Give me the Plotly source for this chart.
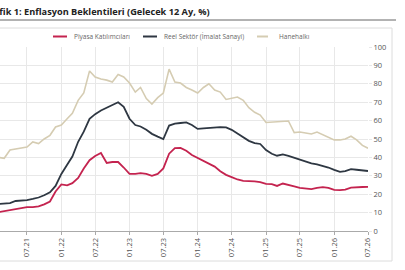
import plotly.graph_objects as go
import pandas as pd

dates = pd.date_range("2021-02-01", periods=66, freq="MS")

piyasa = [10.3, 10.8, 11.4, 12.2, 12.6, 13, 13, 13.4, 14.5, 16, 21.5,
          25.3, 24.8, 26, 28.8, 34, 38.5, 40.8, 42.4, 37, 37.5, 37.5,
          34.5, 31, 31, 31.5, 31, 30, 31, 34, 42, 45, 45.2,
          43.6, 41.3, 39.7, 38.2, 37, 35, 32.5, 30.5, 29.3, 28, 27.2,
          27.2, 27, 26.6, 25.6, 25.5, 24.5, 25.8, 25.2, 24.2, 23.4, 23,
          22.8, 23.4, 23.8, 23.4, 22.3, 22.2, 22.5, 23.6, 23.9, 23.9, 24]

reel = [14.7, 15, 15.2, 16.3, 16.5, 16.8, 17.4, 18.2, 19.4, 21, 24.5,
        31, 36, 40.5, 48.5, 54, 61, 63.5, 65.5, 67, 68.5, 70,
        67.5, 61, 57.6, 56.8, 55, 52.8, 51.3, 50, 57.3, 58.3, 58.7,
        59, 57.6, 55.5, 55.8, 56, 56.3, 56.4, 56.3, 55, 53, 51,
        49, 47.8, 47.3, 44, 42, 40.9, 41.6, 40.8, 39.8, 38.6, 37.6,
        36.8, 36.2, 35.5, 34.5, 33.2, 32.1, 32.6, 33.6, 33.3, 33, 32.6]

hane = [40, 39.5, 44, 44.5, 45, 45.6, 48.4, 47.5, 50, 52, 56.5,
        57.6, 61, 64, 71, 75, 87, 83.7, 82.6, 82, 81, 85,
        83.7, 80.4, 75.5, 78, 72, 69, 72.5, 75, 88, 81, 80.4,
        78, 76.6, 75, 78, 80, 76.6, 75.5, 71.5, 72.3, 72.8, 71,
        67, 64.5, 63, 59, 59.2, 59.5, 59.5, 59.8, 53.5, 53.8, 53.3,
        52.7, 53.8, 52.2, 50.8, 49.5, 49.5, 50, 51.5, 49.5, 46.5, 45]

tick_dates = pd.date_range("2021-07-01", "2026-07-01", freq="6MS")
tick_text = [d.strftime("%m.%y") for d in tick_dates]

names = ["Piyasa Katılımcıları", "Reel Sektör (İmalat Sanayi)", "Hanehalkı"]
colors = ["#c4234f", "#2e3742", "#d5ccb2"]
series = [piyasa, reel, hane]
widths = [1.8, 1.8, 1.6]

fig = go.Figure()
for name, vals, col, w in zip(names, series, colors, widths):
    fig.add_trace(go.Scatter(x=dates, y=vals, mode="lines", name=name,
                             line=dict(color=col, width=w), showlegend=False))

W_PLOT = 368.0
H_PLOT = 184.0
BASE = 231.0

def px(x):
    return x / W_PLOT

def py(y):
    return (BASE - y) / H_PLOT

# frame and title underline
fig.add_shape(type="rect", xref="paper", yref="paper",
              x0=px(-3), x1=px(392), y0=py(261), y1=py(28),
              line=dict(color="#dcdcdc", width=1), layer="below")
fig.add_shape(type="line", xref="paper", yref="paper",
              x0=px(-2), x1=px(396), y0=py(20), y1=py(20),
              line=dict(color="#666666", width=1))

fig.add_annotation(text="<b>Grafik 1: Enflasyon Beklentileri (Gelecek 12 Ay, %)</b>",
                   xref="paper", yref="paper", x=px(-19), y=py(11),
                   xanchor="left", yanchor="middle", showarrow=False,
                   font=dict(family="Open Sans", size=9.2, color="#222222"))

# manual legend
leg = [(53, 67, 72), (143, 157, 162), (257, 268, 277)]
for (x0, x1, xt), name, col in zip(leg, names, colors):
    fig.add_shape(type="line", xref="paper", yref="paper",
                  x0=px(x0), x1=px(x1), y0=py(36.5), y1=py(36.5),
                  line=dict(color=col, width=2))
    fig.add_annotation(text=name, xref="paper", yref="paper", x=px(xt), y=py(36.5),
                       xanchor="left", yanchor="middle", showarrow=False,
                       font=dict(family="Open Sans", size=6.5, color="#666666"))

fig.update_layout(
    width=405, height=270,
    margin=dict(l=0, r=37, t=47, b=39),
    paper_bgcolor="white", plot_bgcolor="white",
    font=dict(family="Open Sans", color="#555555"),
)
fig.update_xaxes(range=["2021-02-06 12:00", "2026-07-01"],
                 tickvals=tick_dates, ticktext=tick_text, tickangle=-90,
                 showgrid=True, gridcolor="#e8e8e8", gridwidth=1,
                 showline=True, linecolor="#aaaaaa", linewidth=1,
                 ticks="outside", ticklen=3, tickcolor="#aaaaaa",
                 tickfont=dict(size=7.5, color="#555555"), zeroline=False)
fig.update_yaxes(range=[0, 100], dtick=10, side="right",
                 showgrid=True, gridcolor="#e8e8e8", gridwidth=1,
                 ticks="outside", ticklen=3, tickcolor="#e8e8e8",
                 tickfont=dict(size=7.5, color="#555555"), zeroline=False)

fig.write_html("out.html")
